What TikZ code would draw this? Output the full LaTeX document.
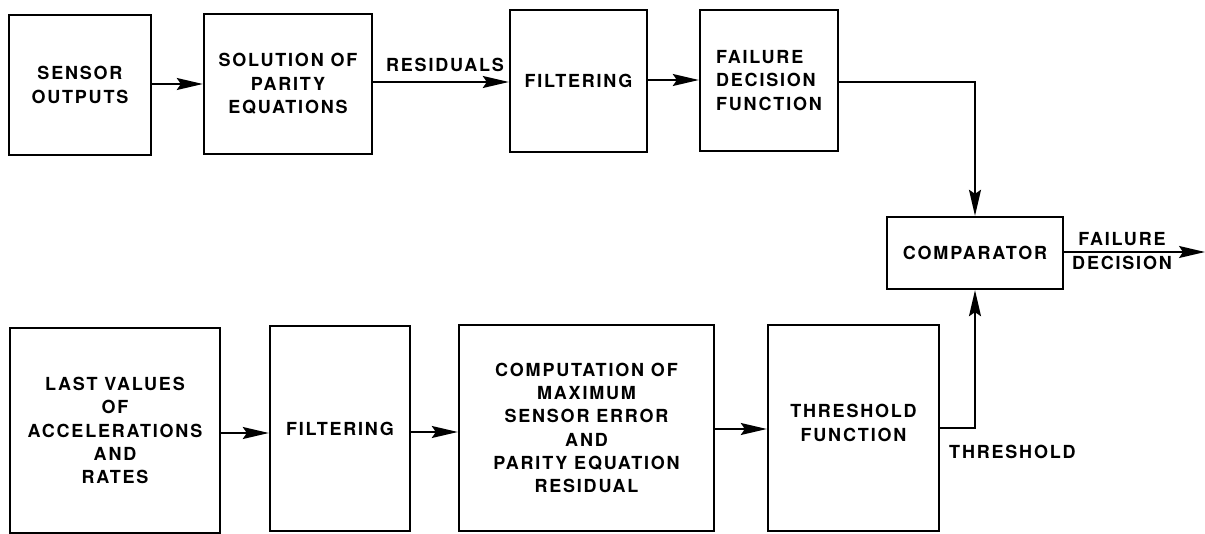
\documentclass[tikz,border=0pt]{standalone}
\usepackage{fontspec}
\newfontfamily\lblfont{TeX Gyre Heros}[LetterSpace=10]
\usetikzlibrary{arrows.meta}
\begin{document}
\begin{tikzpicture}[x=1pt,y=-1pt,
  every node/.style={font=\lblfont\bfseries\fontsize{18}{23.3}\selectfont},
  block/.style={draw,line width=2.4pt,align=center,inner sep=0pt},
  lbl/.style={inner sep=0pt,align=center},
  flow/.style={line width=1.5pt,-{Stealth[length=26pt,width=12pt,inset=4pt]}}]
\useasboundingbox (0,0) rectangle (1205,534);

% upper chain
\node[block,minimum width=142pt,minimum height=140pt] (so)  at (80,85)    {SENSOR\\OUTPUTS};
\node[block,minimum width=168pt,minimum height=140pt] (spe) at (288,84)   {SOLUTION OF\\PARITY\\EQUATIONS};
\node[block,minimum width=137pt,minimum height=142pt] (f1)  at (578.5,81) {FILTERING};
\node[block,align=left,minimum width=138pt,minimum height=141pt] (fdf) at (769,80.5) {FAILURE\\DECISION\\FUNCTION};

% comparator
\node[block,minimum width=176pt,minimum height=72pt] (cmp) at (975,253) {COMPARATOR};

% lower chain
\node[block,minimum width=210pt,minimum height=205pt] (lv) at (115,430.5) {LAST VALUES\\OF\\ACCELERATIONS\\AND\\RATES};
\node[block,minimum width=140pt,minimum height=205pt] (f2) at (340,428.5) {FILTERING};
\node[block,minimum width=255pt,minimum height=206pt] (cp) at (586.5,428) {COMPUTATION OF\\MAXIMUM\\SENSOR ERROR\\AND\\PARITY EQUATION\\RESIDUAL};
\node[block,minimum width=171pt,minimum height=206pt] (tf) at (853.5,428) {};
\node[lbl] (tft) at (853.5,423) {THRESHOLD\\FUNCTION};

% labels
\node[lbl] (res) at (445,65) {RESIDUALS};
\node[lbl] (fd) at (1122,251) {FAILURE\\DECISION};
\node[lbl,anchor=west] (thr) at (949,452) {THRESHOLD};

% connectors
\coordinate (out) at (1205,252);
\draw[flow] (so.east |- 0,84) -- (spe.west |- 0,84);
\draw[flow] (spe.east |- 0,82) -- (f1.west |- 0,82);
\draw[flow] (f1.east |- 0,80) -- (fdf.west |- 0,80);
\draw[flow] (fdf.east |- 0,82) -| (cmp.north);
\draw[flow] (cmp.east |- out) -- (out);
\draw[flow] (lv.east |- 0,433) -- (f2.west |- 0,433);
\draw[flow] (f2.east |- 0,432) -- (cp.west |- 0,432);
\draw[flow] (cp.east |- 0,429) -- (tf.west |- 0,429);
\draw[flow] (tf.east |- 0,428) -| (cmp.south);
\end{tikzpicture}
\end{document}
